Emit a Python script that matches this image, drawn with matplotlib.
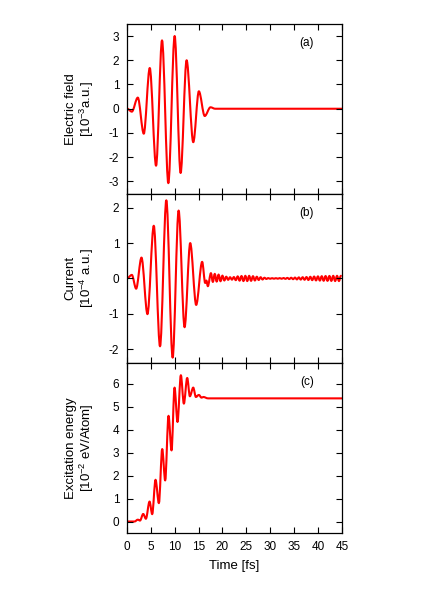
import numpy as np
import matplotlib
matplotlib.use("Agg")
import matplotlib.pyplot as plt
from matplotlib.path import Path
from matplotlib.patches import PathPatch

# ---------- data (turning points of each curve) ----------
# electric field [1e-3 a.u.]
field_t = [0.0, 1.04, 2.29, 3.54, 4.79, 6.11, 7.36, 8.68, 10.0, 11.25,
           12.5, 13.9, 15.07, 16.3, 17.5, 18.5, 45.0]
field_v = [0.01, -0.12, 0.46, -1.03, 1.68, -2.35, 2.82, -3.07, 3.0, -2.65,
           2.0, -1.38, 0.72, -0.3, 0.06, 0.0, 0.0]

# current [1e-4 a.u.], main pulse
current_t = [0.0, 1.04, 1.94, 3.06, 4.31, 5.63, 6.94, 8.26, 9.58, 10.83,
             12.08, 13.26, 14.51, 15.76, 16.4, 16.65, 16.95]
current_v = [0.0, 0.10, -0.29, 0.59, -1.01, 1.49, -1.92, 2.21, -2.24, 1.92,
             -1.38, 1.0, -0.75, 0.47, -0.13, -0.06, -0.22]
# current, small ringing after the pulse (one value every 0.4 fs from 17.6 fs)
tail_start = 17.6
tail_step = 0.4
tail_v = [0.15, -0.10, 0.13, -0.09, 0.11, -0.08, 0.08, -0.06, 0.05, -0.04,
          0.035, -0.035, 0.04, -0.05, 0.06, -0.065, 0.07, -0.075, 0.075, -0.075,
          0.075, -0.07, 0.065, -0.06, 0.05, -0.045, 0.035, -0.03, 0.02, -0.015,
          0.01, -0.01, 0.008, -0.008, 0.008, -0.008, 0.01, -0.01, 0.012, -0.012,
          0.015, -0.018, 0.02, -0.022, 0.025, -0.028, 0.03, -0.033, 0.035, -0.038,
          0.04, -0.045, 0.048, -0.05, 0.055, -0.058, 0.06, -0.063, 0.065, -0.068,
          0.07, -0.07, 0.072, -0.072, 0.075, -0.075, 0.075, -0.075, 0.075]

# excitation energy [1e-2 eV/Atom]
energy_t = [0.0, 1.6, 2.3, 2.75, 3.42, 3.98, 4.75, 5.3, 6.0, 6.7, 7.4, 8.02,
            8.72, 9.35, 9.98, 10.6, 11.3, 11.93, 12.63, 13.19, 13.89, 14.45,
            15.07, 15.63, 16.0, 17.0, 45.0]
energy_v = [0.0, 0.0, 0.08, 0.04, 0.33, 0.12, 0.87, 0.32, 1.82, 0.8, 3.16, 1.79,
            4.61, 3.1, 5.84, 4.34, 6.38, 5.14, 6.26, 5.46, 5.84, 5.43,
            5.52, 5.40, 5.43, 5.37, 5.37]

panel_tags = ["(a)", "(b)", "(c)"]
ylabels = ["Electric field\n[10$^{-3}$a.u.]",
           "Current\n[10$^{-4}$ a.u.]",
           "Excitation energy\n[10$^{-2}$ eV/Atom]"]
ylims = [(-3.5, 3.5), (-2.4, 2.4), (-0.5, 6.9)]
yticks = [range(-3, 4), range(-2, 3), range(0, 7)]
xticks = range(0, 46, 5)


def smooth_path(t, v):
    # cubic bezier through the turning points, flat tangent at each point
    verts = [(t[0], v[0])]
    codes = [Path.MOVETO]
    for i in range(len(t) - 1):
        dt = t[i + 1] - t[i]
        verts += [(t[i] + dt / 3, v[i]), (t[i + 1] - dt / 3, v[i + 1]), (t[i + 1], v[i + 1])]
        codes += [Path.CURVE4] * 3
    return Path(verts, codes)


plt.rcParams["font.family"] = "Liberation Sans"
plt.rcParams["mathtext.fontset"] = "custom"
plt.rcParams["mathtext.rm"] = "Liberation Sans"
plt.rcParams["mathtext.it"] = "Liberation Sans:italic"
plt.rcParams["axes.unicode_minus"] = False

tail_t = tail_start + tail_step * np.arange(len(tail_v))
curves = [
    (field_t, field_v),
    (list(current_t) + list(tail_t), list(current_v) + list(tail_v)),
    (energy_t, energy_v),
]

fig = plt.figure(figsize=(4.36, 6.08), dpi=100)
left, width = 0.291, 0.493
h = 0.2791
bottoms = [0.1234 + 2 * h, 0.1234 + h, 0.1234]

for i in range(3):
    ax = fig.add_axes([left, bottoms[i], width, h])
    t, v = curves[i]
    ax.add_patch(PathPatch(smooth_path(t, v), fill=False, edgecolor="#ff0000",
                           lw=1.5, joinstyle="round", capstyle="round"))
    ax.set_xlim(0, 45)
    ax.set_ylim(*ylims[i])
    ax.set_xticks(xticks)
    ax.set_yticks(yticks[i])
    ax.tick_params(direction="in", top=True, right=True, length=4, width=0.8,
                   labelsize=8.5, pad=5.5)
    for sp in ax.spines.values():
        sp.set_linewidth(0.9)
    if i < 2:
        ax.tick_params(labelbottom=False)
    else:
        ax.set_xlabel("Time [fs]", fontsize=9.5, labelpad=5)
    ax.text(0.837, 0.888, panel_tags[i], transform=ax.transAxes,
            ha="center", va="center", fontsize=8.5)
    ax.text(-0.216, 0.5, ylabels[i], transform=ax.transAxes, rotation=90,
            ha="center", va="center", fontsize=9.5, linespacing=1.1,
            multialignment="center")

fig.savefig("out.png", dpi=100)
